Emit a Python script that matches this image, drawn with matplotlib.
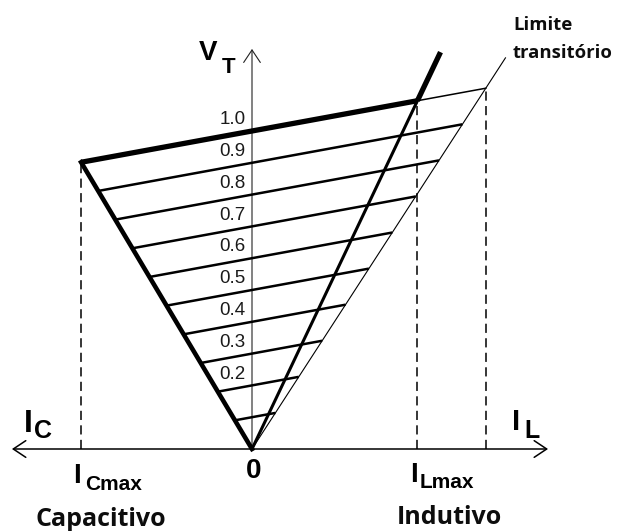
import matplotlib
matplotlib.use("Agg")
import matplotlib.pyplot as plt

# ---------------- data ----------------
v_ref = [1.0, 0.9, 0.8, 0.7, 0.6, 0.5, 0.4, 0.3, 0.2, 0.1]      # reference voltages (pu)
v_labels = ["1.0", "0.9", "0.8", "0.7", "0.6", "0.5", "0.4", "0.3", "0.2"]
slope_k = 0.183        # droop slope dV/dI
b_cap = 0.596          # capacitive limit  I = -b_cap * V
b_ind = 0.475          # inductive limit   I =  b_ind * V
b_trans = 0.648        # transient limit   I =  b_trans * V
v_ind_top = 1.248      # end of inductive limit line
v_trans_top = 1.23     # end of transient limit line
axis_left, axis_right, axis_top = -0.755, 0.931, 1.258

# ---------------- layout ----------------
W, H = 618, 531
X0, Y0, S = 252, 449, 318.0   # pixel origin and pixels per unit

fig = plt.figure(figsize=(W / 100, H / 100), dpi=100)
ax = fig.add_axes([0, 0, 1, 1])
ax.set_xlim(-X0 / S, (W - X0) / S)
ax.set_ylim(-(H - Y0) / S, Y0 / S)
ax.axis("off")


def px(x, y):
    return ((x - X0) / S, (Y0 - y) / S)


def on_limit(vr, b):
    v = vr / (1 - slope_k * b)
    return b * v, v


K = "black"

# axes with arrows
ax.annotate("", xy=(axis_left, 0), xytext=(axis_right, 0),
            arrowprops=dict(arrowstyle="<->,head_length=0.45,head_width=0.3",
                            lw=1.1, color=K, shrinkA=0, shrinkB=0, mutation_scale=20))
ax.annotate("", xy=(0, axis_top), xytext=(0, 0),
            arrowprops=dict(arrowstyle="->,head_length=0.45,head_width=0.3",
                            lw=0.8, color="#222222", shrinkA=0, shrinkB=0, mutation_scale=20))

# regulation lines
for vr in v_ref:
    ic, vc = on_limit(vr, -b_cap)
    it, vt = on_limit(vr, b_trans)
    if vr == 1.0:
        ii, vi = on_limit(vr, b_ind)
        ax.plot([ic, ii], [vc, vi], color=K, lw=3.8, solid_capstyle="butt", zorder=4)
        ax.plot([ii, it], [vi, vt], color=K, lw=1.1, zorder=3)
    else:
        ax.plot([ic, it], [vc, vt], color=K, lw=1.8, solid_capstyle="butt", zorder=3)

# capacitive limit
ic, vc = on_limit(1.0, -b_cap)
ax.plot([0, ic], [0, vc], color=K, lw=3.3, solid_joinstyle="miter", zorder=4)
# inductive limit
ii, vi = on_limit(1.0, b_ind)
ax.plot([0, ii], [0, vi], color=K, lw=2.2, zorder=4)
ax.plot([ii, b_ind * v_ind_top], [vi, v_ind_top], color=K, lw=3.8,
        solid_capstyle="butt", zorder=4)
# transient limit
ax.plot([0, b_trans * v_trans_top], [0, v_trans_top], color=K, lw=0.8, zorder=3)

# dashed verticals
it, vt = on_limit(1.0, b_trans)
for xx, yy in [(ic, vc), (ii, vi), (it, vt)]:
    ax.plot([xx, xx], [0, yy], color=K, lw=1.1, linestyle=(0, (6, 3.5)), zorder=2)

# voltage labels
for vr, lab in zip(v_ref, v_labels):
    ax.text(-0.02, vr + 0.009, lab, ha="right", va="bottom", fontsize=13.5,
            family="Liberation Sans", color="#1a1a1a", zorder=5)

lab_font = dict(family="Liberation Sans", fontweight="bold", color=K)
# V_T
ax.text(*px(199, 60), "V", fontsize=20, ha="left", va="baseline", **lab_font)
ax.text(*px(222, 73), "T", fontsize=16, ha="left", va="baseline", **lab_font)
# I_C
ax.text(*px(24, 432), "I", fontsize=23, ha="left", va="baseline", **lab_font)
ax.text(*px(34, 438), "C", fontsize=18, ha="left", va="baseline", **lab_font)
# I_L
ax.text(*px(512, 430), "I", fontsize=21, ha="left", va="baseline", **lab_font)
ax.text(*px(524, 438), "L", fontsize=18, ha="left", va="baseline", **lab_font)
# I_Cmax
ax.text(*px(73, 483), "I", fontsize=20, ha="left", va="baseline", **lab_font)
ax.text(*px(85, 490), "Cmax", fontsize=15, ha="left", va="baseline", **lab_font)
# 0
ax.text(*px(254, 478), "0", fontsize=20, ha="center", va="baseline", **lab_font)
# I_Lmax
ax.text(*px(410, 482), "I", fontsize=20, ha="left", va="baseline", **lab_font)
ax.text(*px(420, 488), "Lmax", fontsize=15, ha="left", va="baseline", **lab_font)

ob = dict(family="Open Sans", fontweight="bold", color="#0d0d0d")
ax.text(*px(35, 526), "Capacitivo", fontsize=18, ha="left", va="baseline", **ob)
ax.text(*px(397, 524), "Indutivo", fontsize=18, ha="left", va="baseline", **ob)
ax.text(*px(513, 30), "Limite", fontsize=13.3, ha="left", va="baseline", **ob)
ax.text(*px(513, 58), "transitório", fontsize=13.3, ha="left", va="baseline", **ob)

fig.savefig("out.png", dpi=100)
